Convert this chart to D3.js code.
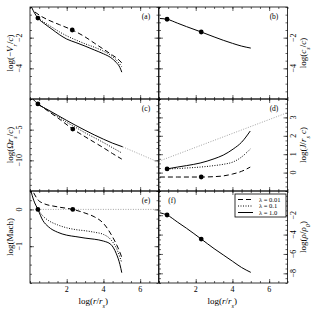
<!DOCTYPE html>
<html>
<head>
<meta charset="utf-8">
<script src="https://cdn.jsdelivr.net/npm/d3@7"></script>
<style>
  body { margin: 0; background: #fff; }
  svg, svg text { font-family: "Liberation Serif", "DejaVu Serif", "Times New Roman", serif; }
  svg { display: block; }
</style>
</head>
<body>
<div id="chart"></div>
<script>
// shared x axis: log(r/rs)
const xDomain = [0, 7];
const xMajor = [2, 4, 6];
const legendLabels = ["λ = 0.01", "λ = 0.1", "λ = 1.0"];

// (a) log(-Vr/c)
const vrLam001 = [[0.27,-0.33],[0.6,-0.6],[1,-0.85],[1.6,-1.15],[2.3,-1.5],[3,-1.95],[3.5,-2.35],[4,-2.75],[4.5,-3.15],[4.8,-3.4],[5,-3.65]];
const vrLam01 = [[0.43,-0.72],[0.8,-1.02],[1.2,-1.32],[1.6,-1.62],[2,-1.88],[2.5,-2.15],[3,-2.4],[3.5,-2.62],[4,-2.88],[4.4,-3.15],[4.7,-3.45],[5,-3.9]];
const vrLam1 = [[0.08,0],[0.25,-0.4],[0.43,-0.72],[0.8,-1.1],[1.2,-1.45],[1.6,-1.8],[2,-2.09],[2.5,-2.32],[3,-2.55],[3.5,-2.8],[4,-3.05],[4.4,-3.3],[4.7,-3.62],[4.9,-3.95],[5,-4.25]];
const vrDots = [[0.43,-0.72],[2.3,-1.5]];

// (b) log(cs/c)
const csAll = [[0.05,-0.75],[0.3,-0.77],[0.44,-0.8],[1,-1.05],[1.5,-1.28],[2.3,-1.63],[3,-1.95],[3.5,-2.17],[4,-2.37],[4.5,-2.55],[5,-2.68]];
const csDots = [[0.44,-0.8],[2.3,-1.63]];

// (c) log(Omega rs/c)
const omLam001 = [[0.43,-0.8],[1,-2.0],[1.5,-3.05],[2.33,-4.9],[3,-6.15],[3.5,-7.05],[4,-7.95],[4.5,-8.9],[5,-9.8]];
const omLam01 = [[0.43,-0.8],[1,-1.9],[1.5,-2.85],[2,-3.8],[2.5,-4.65],[3,-5.5],[3.5,-6.3],[4,-7.1],[4.5,-7.95],[5,-8.8]];
const omLam1 = [[0.15,0],[0.43,-0.8],[1,-1.8],[1.5,-2.65],[2,-3.5],[2.5,-4.32],[3,-5.1],[3.5,-5.85],[4,-6.55],[4.5,-7.2],[5.05,-7.8]];
const omRef = [[5.05,-7.8],[7,-10.3]];
const omDots = [[0.43,-0.8],[2.33,-4.9]];

// (d) log(J/rs c)
const jLam001 = [[0.05,-0.24],[1,-0.24],[2.3,-0.24],[3,-0.22],[3.5,-0.18],[4,-0.08],[4.5,0.07],[4.97,0.3]];
const jLam01 = [[0.44,0.2],[1,0.22],[1.5,0.25],[2.24,0.3],[3,0.38],[3.5,0.45],[4.04,0.58],[4.5,0.85],[4.97,1.28]];
const jLam1 = [[0.44,0.2],[1,0.3],[1.5,0.38],[2.24,0.52],[3,0.75],[3.5,0.95],[4.04,1.28],[4.5,1.65],[4.97,2.26]];
const jRef = [[0,0.62],[7,3.26]];
const jDots = [[0.44,0.2],[2.3,-0.24]];

// (e) log(Mach)
const machLam001 = [[0.2,0.45],[0.45,0.25],[0.7,0.17],[1.5,0.07],[2.33,0],[3,-0.1],[3.5,-0.2],[4,-0.38],[4.5,-0.75],[4.8,-1.05],[5,-1.3]];
const machLam01 = [[0.43,0],[0.7,-0.18],[1,-0.3],[1.5,-0.42],[2,-0.5],[2.5,-0.55],[3,-0.58],[3.5,-0.62],[4,-0.68],[4.4,-0.82],[4.7,-1.05],[4.9,-1.3],[5,-1.45]];
const machLam1 = [[0.05,0.5],[0.2,0.25],[0.43,0],[0.7,-0.3],[1,-0.47],[1.5,-0.62],[2,-0.7],[2.5,-0.74],[3,-0.78],[3.5,-0.81],[4,-0.86],[4.4,-0.95],[4.7,-1.2],[4.9,-1.5],[5,-1.72]];
const machRef = [[0.43,0],[7,0]];
const machDots = [[0.43,0],[2.33,0]];

// (f) log(rho/rho0)
const rhoAll = [[0.05,-1.75],[0.44,-1.98],[1,-2.7],[1.5,-3.35],[2.3,-4.46],[3,-5.45],[3.5,-6.1],[4,-6.75],[4.5,-7.4],[5,-7.9]];
const rhoDots = [[0.44,-1.98],[2.3,-4.46]];

const width = 317, height = 317;
const colX = [30, 159], pw = 128.5;
const rowY = [7, 99, 191], ph = 92;
const serif = "'Liberation Serif', 'DejaVu Serif', serif";

const styles = {
  dashed: { stroke: "#000", dash: "5,3" },
  dotted: { stroke: "#000", dash: "1,1.5" },
  solid:  { stroke: "#000", dash: null },
  ref:    { stroke: "#999", dash: "1,1.5" }
};

const panels = [
  { id: "a", col: 0, row: 0, yDomain: [-6, 0], yMajor: [-2, -4], yStep: 0.5,
    title: [["log(−", ""], ["V", "i"], ["r", "sub"], ["/", ""], ["c", "i"], [")", ""]],
    series: [[vrLam001, "dashed"], [vrLam01, "dotted"], [vrLam1, "solid"]], dots: vrDots,
    tag: [146, 19] },
  { id: "b", col: 1, row: 0, yDomain: [-6, 0], yMajor: [-2, -4], yStep: 0.5,
    title: [["log(", ""], ["c", "i"], ["s", "sub"], ["/", ""], ["c", "i"], [")", ""]],
    series: [[csAll, "solid"]], dots: csDots, tag: [274, 19] },
  { id: "c", col: 0, row: 1, yDomain: [-15, 0], yMajor: [-5, -10], yStep: 1,
    title: [["log(Ω", ""], ["r", "i"], ["s", "sub"], ["/", ""], ["c", "i"], [")", ""]],
    series: [[omRef, "ref"], [omLam001, "dashed"], [omLam01, "dotted"], [omLam1, "solid"]], dots: omDots,
    tag: [146, 111] },
  { id: "d", col: 1, row: 1, yDomain: [-1, 4], yMajor: [0, 1, 2, 3], yStep: 0.25,
    title: [["log(", ""], ["J", "i"], ["/", ""], ["r", "i"], ["s", "sub"], [" c", "i"], [")", ""]],
    series: [[jRef, "ref"], [jLam001, "dashed"], [jLam01, "dotted"], [jLam1, "solid"]], dots: jDots,
    tag: [274, 111] },
  { id: "e", col: 0, row: 2, yDomain: [-2, 0.5], yMajor: [0, -1], yStep: 0.25,
    title: [["log(Mach)", ""]],
    series: [[machRef, "ref"], [machLam001, "dashed"], [machLam01, "dotted"], [machLam1, "solid"]], dots: machDots,
    tag: [146, 203] },
  { id: "f", col: 1, row: 2, yDomain: [-9, 0.5], yMajor: [-2, -4, -6, -8], yStep: 0.5,
    title: [["log(", ""], ["ρ", "i"], ["/", ""], ["ρ", "i"], ["0", "sub"], [")", ""]],
    series: [[rhoAll, "solid"]], dots: rhoDots, tag: [172, 203] }
];

const svg = d3.select("#chart").append("svg")
  .attr("width", width).attr("height", height)
  .attr("font-family", serif);

function addRich(textSel, parts) {
  parts.forEach(([t, kind]) => {
    const ts = textSel.append("tspan").text(t);
    if (kind === "i") ts.attr("font-style", "italic");
    if (kind === "sub") ts.attr("font-style", "italic").attr("font-size", "0.7em").attr("baseline-shift", "sub");
  });
}

panels.forEach(p => {
  const x0 = colX[p.col], y0 = rowY[p.row];
  const x = d3.scaleLinear().domain(xDomain).range([x0, x0 + pw]);
  const y = d3.scaleLinear().domain(p.yDomain).range([y0 + ph, y0]);
  const g = svg.append("g");

  const clipId = "clip-" + p.id;
  svg.append("clipPath").attr("id", clipId).append("rect")
    .attr("x", x0).attr("y", y0).attr("width", pw).attr("height", ph);

  // ticks on all four sides, pointing inward
  const xMinor = d3.range(xDomain[0], xDomain[1] + 0.001, 0.5);
  const yMinor = d3.range(Math.ceil(p.yDomain[0] / p.yStep) * p.yStep, p.yDomain[1] + 0.001, p.yStep);
  const axes = [
    [d3.axisBottom(x), y0 + ph, "x", xMinor, xMajor],
    [d3.axisTop(x), y0, "x", xMinor, xMajor],
    [d3.axisLeft(y), x0, "y", yMinor, p.yMajor],
    [d3.axisRight(y), x0 + pw, "y", yMinor, p.yMajor]
  ];
  axes.forEach(([ax, pos, dir, minor, major]) => {
    [[minor, 2], [major, 4]].forEach(([vals, len]) => {
      const a = g.append("g")
        .attr("transform", dir === "x" ? `translate(0,${pos})` : `translate(${pos},0)`)
        .call(ax.tickValues(vals).tickSize(-len).tickFormat(""));
      a.select(".domain").remove();
      a.selectAll("line").attr("stroke", "#000").attr("stroke-width", 0.6);
    });
  });

  // curves
  const line = d3.line().x(d => x(d[0])).y(d => y(d[1])).curve(d3.curveMonotoneX);
  const lines = g.append("g").attr("clip-path", `url(#${clipId})`);
  p.series.forEach(([data, st]) => {
    const s = styles[st];
    lines.append("path").datum(data)
      .attr("d", line)
      .attr("fill", "none")
      .attr("stroke", s.stroke)
      .attr("stroke-width", st === "ref" ? 0.9 : 1)
      .attr("stroke-dasharray", s.dash);
  });
  lines.selectAll("circle").data(p.dots).enter().append("circle")
    .attr("cx", d => x(d[0])).attr("cy", d => y(d[1])).attr("r", 2.4).attr("fill", "#000");

  // frame
  g.append("rect").attr("x", x0).attr("y", y0).attr("width", pw).attr("height", ph)
    .attr("fill", "none").attr("stroke", "#000").attr("stroke-width", 0.8);

  // y tick labels (rotated) and title
  const left = p.col === 0;
  const lx = left ? 22 : 296;
  g.selectAll(".ylab").data(p.yMajor).enter().append("text")
    .attr("transform", d => `translate(${lx},${y(d)}) rotate(-90)`)
    .attr("text-anchor", "middle").attr("font-size", 8)
    .text(d => d < 0 ? "−" + Math.abs(d) : d);
  const title = g.append("text")
    .attr("transform", `translate(${left ? 13 : 306},${y0 + ph / 2}) rotate(-90)`)
    .attr("text-anchor", "middle").attr("font-size", 9);
  addRich(title, p.title);

  // x tick labels and title on bottom row
  if (p.row === 2) {
    g.selectAll(".xlab").data(xMajor).enter().append("text")
      .attr("x", d => x(d)).attr("y", y0 + ph + 9)
      .attr("text-anchor", "middle").attr("font-size", 8)
      .text(d => d);
    const xt = g.append("text").attr("x", x0 + pw / 2 - 1).attr("y", y0 + ph + 21)
      .attr("text-anchor", "middle").attr("font-size", 9);
    addRich(xt, [["log(", ""], ["r", "i"], ["/", ""], ["r", "i"], ["s", "sub"], [")", ""]]);
  }

  // panel tag
  g.append("text").attr("x", p.tag[0]).attr("y", p.tag[1])
    .attr("text-anchor", "middle").attr("font-size", 7.5).text(`(${p.id})`);
});

// legend
const lg = svg.append("g").attr("transform", "translate(235,194)");
lg.append("rect").attr("width", 51).attr("height", 23)
  .attr("fill", "#fff").attr("stroke", "#000").attr("stroke-width", 0.8);
["dashed", "dotted", "solid"].forEach((st, i) => {
  const yy = 5.5 + i * 6.5;
  lg.append("line").attr("x1", 3).attr("x2", 18).attr("y1", yy).attr("y2", yy)
    .attr("stroke", "#000").attr("stroke-width", 1).attr("stroke-dasharray", styles[st].dash);
  lg.append("text").attr("x", 24).attr("y", yy + 2.3).attr("font-size", 6.5).text(legendLabels[i]);
});
</script>
</body>
</html>
